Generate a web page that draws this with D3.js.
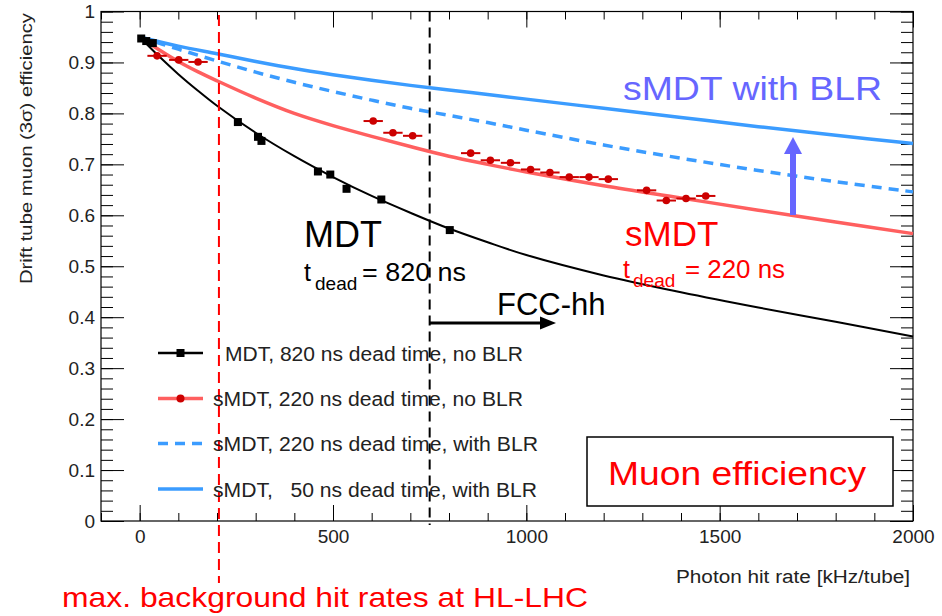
<!DOCTYPE html>
<html>
<head>
<meta charset="utf-8">
<script src="https://cdn.jsdelivr.net/npm/d3@7"></script>
<style>
  html, body { margin: 0; padding: 0; background: #fff; }
  svg { display: block; font-family: Arial, "Liberation Sans", Helvetica, sans-serif; }
</style>
</head>
<body>
<svg id="chart" width="942" height="616"></svg>
<script>
// ---- data -------------------------------------------------------------
// MDT measurements (820 ns dead time, no BLR)
const mdtRate = [4, 17, 34, 254, 306, 315, 461, 493, 535, 625, 802];
const mdtEff  = [0.947, 0.942, 0.938, 0.783, 0.754, 0.746, 0.686, 0.680, 0.652, 0.631, 0.571];

// sMDT measurements (220 ns dead time, no BLR), horizontal error +-25 kHz
const smdtRate = [45, 101, 151, 604, 655, 706, 856, 907, 959, 1011, 1061, 1111, 1162, 1212, 1311, 1362, 1413, 1464];
const smdtEff  = [0.913, 0.905, 0.901, 0.785, 0.762, 0.756, 0.722, 0.708, 0.703, 0.690, 0.684, 0.675, 0.675, 0.671, 0.649, 0.629, 0.633, 0.638];
const smdtErr  = [25, 25, 25, 25, 25, 25, 25, 25, 25, 25, 25, 25, 25, 25, 25, 25, 25, 25];

// Model curves
const curveRate = [0, 50, 100, 150, 200, 300, 400, 500, 600, 700, 800, 900, 1000, 1200, 1400, 1600, 1800, 2000];
const mdtModel  = [0.950, 0.912, 0.877, 0.845, 0.815, 0.762, 0.716, 0.675, 0.638, 0.605, 0.574, 0.547, 0.522, 0.482, 0.449, 0.419, 0.391, 0.362];
const smdtModel = [0.950, 0.925, 0.902, 0.882, 0.864, 0.830, 0.800, 0.776, 0.755, 0.735, 0.716, 0.700, 0.685, 0.658, 0.634, 0.610, 0.587, 0.564];
const blrRate   = [0, 100, 200, 300, 400, 500, 600, 700, 800, 900, 1000, 1200, 1400, 1600, 1800, 2000];
const blr220    = [0.950, 0.926, 0.903, 0.881, 0.861, 0.843, 0.826, 0.810, 0.796, 0.782, 0.767, 0.738, 0.712, 0.688, 0.666, 0.646];
const blr50     = [0.950, 0.932, 0.917, 0.902, 0.888, 0.876, 0.865, 0.855, 0.846, 0.837, 0.828, 0.810, 0.792, 0.774, 0.757, 0.741];

// Axis ticks
const xMajor = [0, 500, 1000, 1500, 2000];
const xMinor = d3.range(-100, 2001, 100);
const yMajor = [0, 0.1, 0.2, 0.3, 0.4, 0.5, 0.6, 0.7, 0.8, 0.9, 1];
const yMinor = d3.range(0, 51).map(i => i / 50);

// Reference lines
const hlLhcRate = 205;
const fccRate = 750;

// Legend entries
const legendLabels = [
  "MDT, 820 ns dead time, no BLR",
  "sMDT, 220 ns dead time, no BLR",
  "sMDT, 220 ns dead time, with BLR",
  "sMDT,   50 ns dead time, with BLR"
];

// ---- layout -----------------------------------------------------------
const C = { black: "#000", red: "#ff5f5f", darkRed: "#cc0000", blue: "#3b9cff", arrowBlue: "#6666ff", annRed: "#ff0000" };
const plot = { left: 101, right: 913, top: 11.5, bottom: 521 };

const svg = d3.select("#chart");
const x = d3.scaleLinear().domain([-100, 2000]).range([plot.left, plot.right]);
const y = d3.scaleLinear().domain([0, 1]).range([plot.bottom, plot.top]);

// ---- axes -------------------------------------------------------------
function styleAxis(g) {
  g.select(".domain").remove();
  g.selectAll("line").attr("stroke", "#000").attr("stroke-width", 1);
  g.attr("font-family", null).attr("font-size", null);
  g.selectAll("text").attr("fill", "#222").attr("font-size", 19);
}

svg.append("g").attr("transform", `translate(${plot.left},0)`)
  .call(d3.axisLeft(y).tickValues(yMinor).tickSizeInner(-12).tickSizeOuter(0).tickFormat(""))
  .call(styleAxis);
svg.append("g").attr("transform", `translate(${plot.left},0)`)
  .call(d3.axisLeft(y).tickValues(yMajor).tickSizeInner(-23).tickSizeOuter(0).tickPadding(6).tickFormat(d3.format("~g")))
  .call(styleAxis);
svg.append("g").attr("transform", `translate(${plot.right},0)`)
  .call(d3.axisRight(y).tickValues(yMinor).tickSizeInner(-12).tickSizeOuter(0).tickFormat(""))
  .call(styleAxis);
svg.append("g").attr("transform", `translate(${plot.right},0)`)
  .call(d3.axisRight(y).tickValues(yMajor).tickSizeInner(-23).tickSizeOuter(0).tickFormat(""))
  .call(styleAxis);

svg.append("g").attr("transform", `translate(0,${plot.bottom})`)
  .call(d3.axisBottom(x).tickValues(xMinor).tickSizeInner(-8).tickSizeOuter(0).tickFormat(""))
  .call(styleAxis);
svg.append("g").attr("transform", `translate(0,${plot.bottom})`)
  .call(d3.axisBottom(x).tickValues(xMajor).tickSizeInner(-16).tickSizeOuter(0).tickPadding(9).tickFormat(d3.format("d")))
  .call(styleAxis);
svg.append("g").attr("transform", `translate(0,${plot.top})`)
  .call(d3.axisTop(x).tickValues(xMinor).tickSizeInner(-8).tickSizeOuter(0).tickFormat(""))
  .call(styleAxis);
svg.append("g").attr("transform", `translate(0,${plot.top})`)
  .call(d3.axisTop(x).tickValues(xMajor).tickSizeInner(-16).tickSizeOuter(0).tickFormat(""))
  .call(styleAxis);

// frame
svg.append("rect")
  .attr("x", plot.left).attr("y", plot.top)
  .attr("width", plot.right - plot.left).attr("height", plot.bottom - plot.top)
  .attr("fill", "none").attr("stroke", "#000").attr("stroke-width", 1.2);

// axis titles
svg.append("text")
  .attr("transform", "rotate(-90)")
  .attr("x", -148.5).attr("y", 32)
  .attr("text-anchor", "middle")
  .attr("font-size", 16).attr("fill", "#222")
  .attr("textLength", 271).attr("lengthAdjust", "spacingAndGlyphs")
  .text("Drift tube muon (3σ) efficiency");

svg.append("text")
  .attr("x", 676).attr("y", 583)
  .attr("font-size", 18).attr("fill", "#222")
  .attr("textLength", 234).attr("lengthAdjust", "spacingAndGlyphs")
  .text("Photon hit rate [kHz/tube]");

// ---- curves -----------------------------------------------------------
const line = d3.line().x(d => x(d[0])).y(d => y(d[1])).curve(d3.curveCatmullRom.alpha(0.5));
const zip = (a, b) => a.map((v, i) => [v, b[i]]);

svg.append("path").attr("d", line(zip(blrRate, blr50)))
  .attr("fill", "none").attr("stroke", C.blue).attr("stroke-width", 3.5);
svg.append("path").attr("d", line(zip(blrRate, blr220)))
  .attr("fill", "none").attr("stroke", C.blue).attr("stroke-width", 3.5).attr("stroke-dasharray", "10,7");
svg.append("path").attr("d", line(zip(curveRate, smdtModel)))
  .attr("fill", "none").attr("stroke", C.red).attr("stroke-width", 3.5);
svg.append("path").attr("d", line(zip(curveRate, mdtModel)))
  .attr("fill", "none").attr("stroke", C.black).attr("stroke-width", 2);

// sMDT points with horizontal error bars
const sPts = svg.append("g");
sPts.selectAll("line").data(smdtRate).join("line")
  .attr("x1", (d, i) => x(d - smdtErr[i])).attr("x2", (d, i) => x(d + smdtErr[i]))
  .attr("y1", (d, i) => y(smdtEff[i])).attr("y2", (d, i) => y(smdtEff[i]))
  .attr("stroke", C.darkRed).attr("stroke-width", 2);
sPts.selectAll("circle").data(smdtRate).join("circle")
  .attr("cx", d => x(d)).attr("cy", (d, i) => y(smdtEff[i])).attr("r", 3.8)
  .attr("fill", C.darkRed);

// MDT points
svg.append("g").selectAll("rect").data(mdtRate).join("rect")
  .attr("x", d => x(d) - 4).attr("y", (d, i) => y(mdtEff[i]) - 4)
  .attr("width", 8).attr("height", 8).attr("fill", "#000");

// ---- reference lines --------------------------------------------------
svg.append("line")
  .attr("x1", x(fccRate)).attr("x2", x(fccRate)).attr("y1", plot.top).attr("y2", plot.bottom + 4)
  .attr("stroke", "#000").attr("stroke-width", 2).attr("stroke-dasharray", "10,6");
svg.append("line")
  .attr("x1", x(hlLhcRate)).attr("x2", x(hlLhcRate)).attr("y1", 15).attr("y2", 583)
  .attr("stroke", C.annRed).attr("stroke-width", 2).attr("stroke-dasharray", "11,6");

// ---- legend -----------------------------------------------------------
const legY = [353, 398.5, 443.5, 489];
const legTextX = [225, 213, 213, 213];
const legTextLen = [298, 310, 325, 324];
const lx1 = 158, lx2 = 203;
const leg = svg.append("g");
// entry 1: MDT
leg.append("line").attr("x1", lx1).attr("x2", lx2).attr("y1", legY[0]).attr("y2", legY[0])
  .attr("stroke", "#000").attr("stroke-width", 2.5);
leg.append("rect").attr("x", (lx1 + lx2) / 2 - 4).attr("y", legY[0] - 4).attr("width", 8).attr("height", 8).attr("fill", "#000");
// entry 2: sMDT no BLR
leg.append("line").attr("x1", lx1).attr("x2", lx2).attr("y1", legY[1]).attr("y2", legY[1])
  .attr("stroke", C.red).attr("stroke-width", 3.5);
leg.append("circle").attr("cx", (lx1 + lx2) / 2).attr("cy", legY[1]).attr("r", 4).attr("fill", C.darkRed);
// entry 3: dashed
leg.append("line").attr("x1", lx1).attr("x2", lx2).attr("y1", legY[2]).attr("y2", legY[2])
  .attr("stroke", C.blue).attr("stroke-width", 3.5).attr("stroke-dasharray", "10,7");
// entry 4: solid
leg.append("line").attr("x1", lx1).attr("x2", lx2).attr("y1", legY[3]).attr("y2", legY[3])
  .attr("stroke", C.blue).attr("stroke-width", 3.5);

leg.selectAll("text").data(legendLabels).join("text")
  .attr("x", (d, i) => legTextX[i]).attr("y", (d, i) => legY[i] + 7.5)
  .attr("font-size", 20).attr("fill", "#222")
  .attr("xml:space", "preserve").style("white-space", "pre")
  .attr("textLength", (d, i) => legTextLen[i]).attr("lengthAdjust", "spacingAndGlyphs")
  .text(d => d);

// ---- annotations ------------------------------------------------------
// MDT label
svg.append("text").attr("x", 304).attr("y", 247).attr("font-size", 36).attr("fill", "#000").text("MDT");
svg.append("text").attr("x", 304).attr("y", 281).attr("font-size", 25).attr("fill", "#000").text("t");
svg.append("text").attr("x", 315).attr("y", 290).attr("font-size", 19).attr("fill", "#000").text("dead");
svg.append("text").attr("x", 362).attr("y", 281).attr("font-size", 25).attr("fill", "#000")
  .attr("textLength", 104).attr("lengthAdjust", "spacingAndGlyphs").text("= 820 ns");

// sMDT label
svg.append("text").attr("x", 625).attr("y", 246).attr("font-size", 35).attr("fill", C.annRed).text("sMDT");
svg.append("text").attr("x", 623).attr("y", 278).attr("font-size", 25).attr("fill", C.annRed).text("t");
svg.append("text").attr("x", 633).attr("y", 287).attr("font-size", 19).attr("fill", C.annRed).text("dead");
svg.append("text").attr("x", 685).attr("y", 278).attr("font-size", 25).attr("fill", C.annRed)
  .attr("textLength", 100).attr("lengthAdjust", "spacingAndGlyphs").text("= 220 ns");

// sMDT with BLR label and arrow
svg.append("text").attr("x", 623).attr("y", 100).attr("font-size", 34).attr("fill", C.arrowBlue)
  .attr("textLength", 259).attr("lengthAdjust", "spacingAndGlyphs").text("sMDT with BLR");
const ax = 793, aTip = 137, aBase = 215;
svg.append("rect").attr("x", ax - 3).attr("y", aTip + 15).attr("width", 6).attr("height", aBase - aTip - 15).attr("fill", C.arrowBlue);
svg.append("path").attr("d", `M${ax},${aTip} L${ax + 9},${aTip + 17} L${ax - 9},${aTip + 17} Z`).attr("fill", C.arrowBlue);

// FCC-hh arrow
svg.append("text").attr("x", 497).attr("y", 315).attr("font-size", 31).attr("fill", "#000").text("FCC-hh");
svg.append("line").attr("x1", x(fccRate)).attr("x2", 542).attr("y1", 323).attr("y2", 323)
  .attr("stroke", "#000").attr("stroke-width", 3);
svg.append("path").attr("d", "M556,323 L540,316.5 L540,329.5 Z").attr("fill", "#000");

// Muon efficiency box
svg.append("rect").attr("x", 587).attr("y", 437).attr("width", 306).attr("height", 69)
  .attr("fill", "#fff").attr("stroke", "#000").attr("stroke-width", 1.5);
svg.append("text").attr("x", 608).attr("y", 485).attr("font-size", 33).attr("fill", C.annRed)
  .attr("textLength", 258).attr("lengthAdjust", "spacingAndGlyphs").text("Muon efficiency");

// HL-LHC note
svg.append("text").attr("x", 62).attr("y", 607).attr("font-size", 28).attr("fill", C.annRed)
  .attr("textLength", 526).attr("lengthAdjust", "spacingAndGlyphs").text("max. background hit rates at HL-LHC");
</script>
</body>
</html>
